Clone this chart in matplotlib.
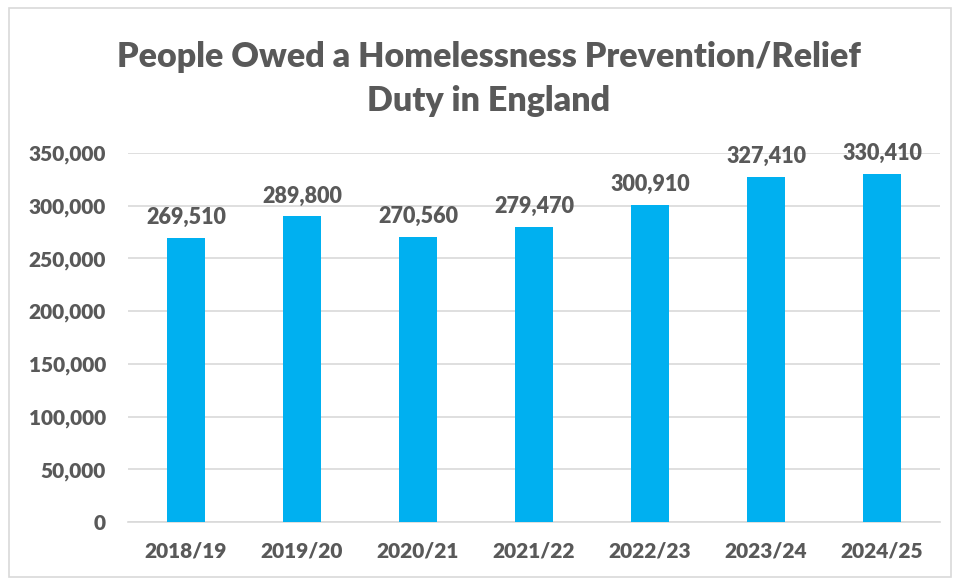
import matplotlib.pyplot as plt
from matplotlib.patches import Rectangle
from matplotlib.ticker import FuncFormatter

plt.rcParams['font.family'] = ['Lato', 'DejaVu Sans']

years = ['2018/19', '2019/20', '2020/21', '2021/22', '2022/23', '2023/24', '2024/25']
people = [269510, 289800, 270560, 279470, 300910, 327410, 330410]

grey = '#595959'
weight = 'heavy'
fig = plt.figure(figsize=(9.55, 5.79), dpi=100)
ax = fig.add_axes([128 / 955, 1 - 522 / 579, 812 / 955, 369 / 579])

ax.bar(range(len(people)), people, width=0.32, color='#00B0F0', zorder=3)
for i, v in enumerate(people):
    ax.text(i, v + 9500, f'{v:,}', ha='center', va='bottom',
            fontsize=15.5, fontweight=weight, color=grey)

ax.set_xlim(-0.5, len(people) - 0.5)
ax.set_ylim(0, 350000)
ax.set_yticks(range(0, 350001, 50000))
ax.yaxis.set_major_formatter(FuncFormatter(lambda v, p: f'{int(v):,}'))
ax.set_xticks(range(len(years)))
ax.set_xticklabels(years)
ax.tick_params(length=0, labelsize=15, labelcolor=grey, pad=14)
ax.tick_params(axis='y', pad=16)
for lab in ax.get_xticklabels() + ax.get_yticklabels():
    lab.set_fontweight(weight)
ax.grid(axis='y', color='#d9d9d9', linewidth=1.2, zorder=0)
for s in ['top', 'right', 'left']:
    ax.spines[s].set_visible(False)
ax.spines['bottom'].set_color('#d9d9d9')
ax.spines['bottom'].set_linewidth(1.2)

fig.text(489 / 955, 1 - 79 / 579, 'People Owed a Homelessness Prevention/Relief\nDuty in England',
         ha='center', va='center', fontsize=24.5, fontweight=weight, color=grey,
         linespacing=1.45)

fig.patches.append(Rectangle((9 / 955, 2 / 579), 942 / 955, 569 / 579,
                             transform=fig.transFigure, fill=False,
                             edgecolor='#d9d9d9', linewidth=1.2))

fig.savefig('out.png', dpi=100, facecolor='white')
